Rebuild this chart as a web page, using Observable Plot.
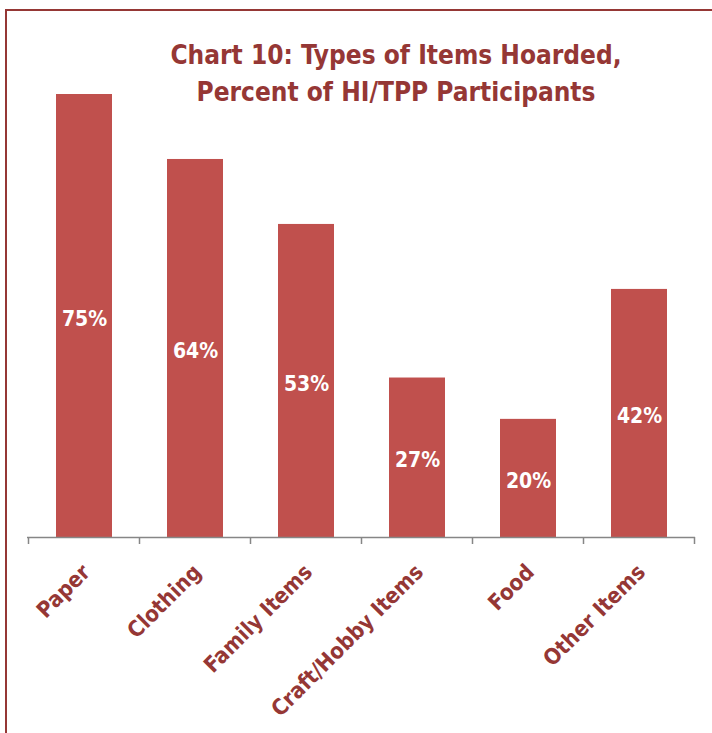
<!DOCTYPE html>
<html>
<head>
<meta charset="utf-8">
<script src="https://cdn.jsdelivr.net/npm/d3@7"></script>
<script src="https://cdn.jsdelivr.net/npm/@observablehq/plot@0.6"></script>
<style>
  html, body { margin: 0; padding: 0; background: #fff; overflow: hidden; }
  #wrap { position: relative; width: 712px; height: 733px; overflow: hidden; }
  #border { position: absolute; left: 5px; top: 9px; width: 900px; height: 900px;
    border-left: 2px solid #953735; border-top: 2px solid #953735; box-sizing: border-box; }
  #title { position: absolute; left: 0; top: 37px; width: 792px; text-align: center;
    font-family: "Liberation Sans Narrow", "DejaVu Sans Condensed", sans-serif; font-weight: bold;
    font-size: 26px; line-height: 37px; color: #953735; z-index: 2; }
  #chart { position: absolute; left: 0; top: 0; z-index: 1; }
</style>
</head>
<body>
<div id="wrap">
  <div id="border"></div>
  <div id="chart"></div>
  <div id="title">Chart 10: Types of Items Hoarded,<br>Percent of HI/TPP Participants</div>
</div>
<script>
const categories = ["Paper", "Clothing", "Family Items", "Craft/Hobby Items", "Food", "Other Items"];
const values = [75, 64, 53, 27, 20, 42];
const labels = ["75%", "64%", "53%", "27%", "20%", "42%"];

const data = categories.map((c, i) => ({category: c, value: values[i], label: labels[i]}));

const font = '"Liberation Sans Narrow", "DejaVu Sans Condensed", sans-serif';

function boundaryTicks() {
  return (index, scales, channels, dimensions) => {
    const x = scales.x;
    const bw = typeof x.bandwidth === "function" ? x.bandwidth() : x.bandwidth;
    const step = typeof x.step === "function" ? x.step() : x.step;
    const off = (step - bw) / 2;
    const xs = categories.map(c => x(c) - off);
    xs.push(x(categories[categories.length - 1]) + bw + off);
    const y0 = scales.y(0);
    const g = d3.create("svg:g");
    g.selectAll("line").data(xs).join("line")
      .attr("x1", d => d).attr("x2", d => d)
      .attr("y1", y0).attr("y2", y0 + 7)
      .attr("stroke", "#868686").attr("stroke-width", 1.5);
    return g.node();
  };
}

const plot = Plot.plot({
  width: 712,
  height: 733,
  marginLeft: 27,
  marginRight: 17,
  marginTop: 94,
  marginBottom: 196,
  style: {fontFamily: font, background: "transparent", overflow: "visible"},
  x: {domain: categories, paddingInner: 0.5, paddingOuter: 0.25, label: null},
  y: {domain: [0, 75], axis: null},
  marks: [
    Plot.barY(data, {x: "category", y: "value", fill: "#C0504D"}),
    Plot.ruleY([0], {stroke: "#868686", strokeWidth: 1.5}),
    boundaryTicks(),
    Plot.text(data, {x: "category", y: d => d.value / 2, text: "label", fill: "white",
      fontWeight: "bold", fontSize: 21, fontFamily: font, dy: 3}),
    Plot.axisX({tickSize: 0, tickPadding: 31, tickRotate: -45, fontSize: 22, fontWeight: "bold",
      fill: "#953735", dx: 2, label: null, fontFamily: font})
  ]
});
document.getElementById("chart").appendChild(plot);
</script>
</body>
</html>
